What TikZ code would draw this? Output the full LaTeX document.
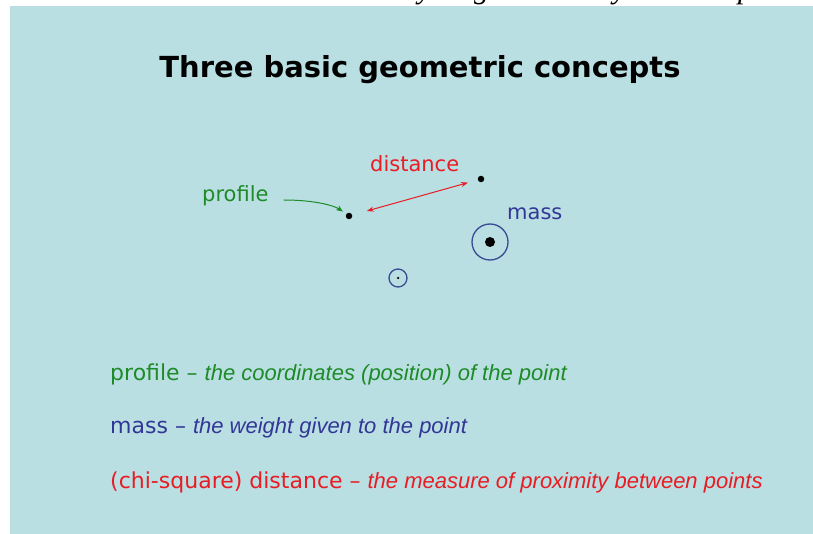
\documentclass[tikz,border=0pt]{standalone}
\usepackage{fontspec}
\setmainfont{DejaVu Sans}
\newfontfamily\descfont{Liberation Sans}
\newfontfamily\clipfont{Liberation Serif}
\usetikzlibrary{arrows.meta}
\definecolor{slideblue}{RGB}{186,223,227}
\definecolor{profgreen}{RGB}{30,138,40}
\definecolor{massblue}{RGB}{50,55,150}
\definecolor{distred}{RGB}{232,28,36}
\definecolor{ringblue}{RGB}{55,75,145}

\begin{document}
\begin{tikzpicture}[x=1pt, y=-1pt, every node/.style={inner sep=0pt, anchor=base west},
    dot/.style={circle, fill=black, anchor=center, minimum size=#1},
    ring/.style={circle, draw=ringblue, line width=1.3pt, anchor=center, minimum size=#1},
    label/.style={font=\fontsize{21}{25}\selectfont},
    term/.style={font=\fontsize{22}{26}\selectfont}]
  \useasboundingbox (0,0) rectangle (813,534);
  \fill[white] (0,0) rectangle (813,534);
  \fill[slideblue] (10,6) rectangle (813,534);
  % cut-off line above the slide
  \begin{scope}
    \clip (0,0) rectangle (813,6);
    \foreach \x/\ch in {418/y, 474/g, 613/y, 738/p}
      \node[font=\clipfont\itshape\fontsize{30}{34}\selectfont] at (\x,-1) {\ch};
  \end{scope}
  \node[anchor=base, font=\bfseries\fontsize{29}{34}\selectfont] (title) at (420,78) {Three basic geometric concepts};
  % points
  \node[dot=6.5pt] (profpt) at (349,216) {};
  \node[dot=6.5pt] (distpt) at (481,179) {};
  \node[dot=10pt] (masspt) at (490,242) {};
  \node[ring=36pt] (massring) at (490,242) {};
  \node[dot=2.5pt] (smallpt) at (398,278) {};
  \node[ring=18pt] (smallring) at (398,278) {};
  % labels and arrows
  \node[label, profgreen] (proflabel) at (202,202) {profile};
  \node[label, distred] (distlabel) at (370,172) {distance};
  \node[label, massblue] (masslabel) at (507,220) {mass};
  \draw[profgreen, line width=1pt, -{Stealth[length=7pt, width=5.5pt]}, shorten >=4pt]
    ([xshift=15pt, yshift=2pt]proflabel.base east) .. controls +(32,0) and +(-14,-10) .. (profpt);
  \draw[distred, line width=1pt, {Stealth[length=7pt, width=5pt]}-{Stealth[length=7pt, width=5pt]},
    shorten <=15pt, shorten >=10pt] (profpt) -- (distpt);
  % definitions
  \node[term, profgreen] (profdef) at (110,380) {profile -- {\descfont\itshape the coordinates (position) of the point}};
  \node[term, massblue] (massdef) at (110,433) {mass -- {\descfont\itshape the weight given to the point}};
  \node[term, distred] (distdef) at (110,488) {(chi-square) distance -- {\descfont\itshape the measure of proximity between points}};
\end{tikzpicture}
\end{document}
